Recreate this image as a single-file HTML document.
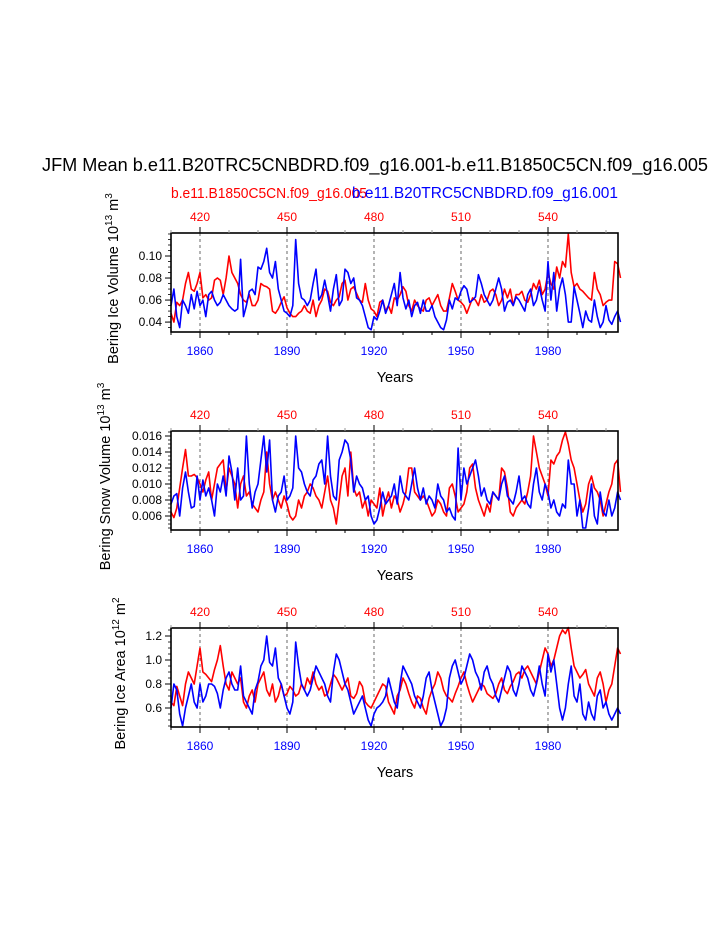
<!DOCTYPE html>
<html><head><meta charset="utf-8">
<style>
html,body{margin:0;padding:0;background:#fff;}
svg{display:block;font-family:"Liberation Sans",Arial,sans-serif;}
</style></head>
<body>
<svg id="chart" width="723" height="935" viewBox="0 0 723 935" xmlns="http://www.w3.org/2000/svg">
<text x="42" y="171" font-size="18" textLength="666" lengthAdjust="spacingAndGlyphs">JFM Mean b.e11.B20TRC5CNBDRD.f09_g16.001-b.e11.B1850C5CN.f09_g16.005</text>
<text x="171" y="198" font-size="14.5" fill="#ff0000" textLength="196" lengthAdjust="spacingAndGlyphs">b.e11.B1850C5CN.f09_g16.005</text>
<text x="352" y="198" font-size="15.5" fill="#0000ff" textLength="266" lengthAdjust="spacingAndGlyphs">b.e11.B20TRC5CNBDRD.f09_g16.001</text>
</svg>
<script>
const years0 = 1850;
const bottomTickLabels = [1860,1890,1920,1950,1980];
const topTickLabels = [420,450,480,510,540];

const iceVolBlue = [.055,.070,.045,.035,.060,.055,.048,.065,.052,.068,
.055,.060,.045,.065,.068,.060,.055,.058,.065,.060,
.055,.052,.050,.052,.097,.045,.055,.068,.070,.065,
.090,.088,.095,.107,.085,.080,.095,.070,.060,.050,
.048,.045,.055,.115,.075,.062,.060,.055,.060,.075,
.088,.060,.065,.078,.065,.050,.070,.083,.055,.060,
.088,.085,.075,.080,.062,.060,.055,.045,.035,.033,
.045,.042,.050,.060,.048,.055,.065,.075,.055,.085,
.062,.052,.060,.045,.055,.058,.048,.060,.050,.050,
.055,.045,.040,.035,.033,.042,.060,.052,.062,.060,
.068,.073,.070,.058,.060,.063,.083,.075,.065,.060,
.055,.060,.070,.080,.070,.050,.058,.060,.055,.063,
.060,.055,.050,.065,.070,.055,.060,.072,.060,.050,
.095,.060,.085,.050,.070,.080,.065,.040,.040,.072,
.060,.048,.035,.050,.042,.040,.060,.045,.035,.040,
.055,.042,.038,.045,.050,.040];
const iceVolRed = [.048,.040,.058,.055,.060,.075,.085,.070,.068,.075,
.085,.062,.065,.060,.062,.078,.080,.078,.065,.080,
.100,.085,.080,.075,.065,.060,.058,.065,.055,.055,
.060,.075,.073,.072,.070,.050,.048,.052,.058,.063,
.053,.048,.045,.045,.048,.050,.055,.050,.048,.060,
.045,.055,.060,.070,.068,.058,.055,.060,.063,.075,
.078,.060,.070,.072,.066,.060,.058,.075,.060,.052,
.050,.045,.058,.060,.050,.055,.048,.062,.060,.065,
.072,.068,.055,.050,.060,.055,.052,.050,.060,.062,
.055,.060,.065,.055,.050,.050,.062,.075,.068,.060,
.058,.055,.048,.055,.062,.060,.055,.065,.058,.060,
.068,.070,.065,.055,.060,.070,.062,.070,.055,.065,
.065,.068,.060,.058,.065,.075,.070,.078,.065,.070,
.085,.075,.070,.090,.080,.095,.090,.120,.085,.072,
.075,.070,.068,.065,.062,.060,.085,.070,.065,.055,
.058,.060,.060,.095,.093,.080];

const snowBlue = [.0075,.0085,.0088,.0060,.0095,.0115,.0090,.0070,.0072,.0110,
.0080,.0105,.0085,.0095,.0080,.0060,.0100,.0090,.0110,.0085,
.0135,.0115,.0080,.0120,.0080,.0085,.0160,.0100,.0070,.0090,
.0100,.0130,.0160,.0115,.0155,.0080,.0065,.0085,.0090,.0110,
.0080,.0085,.0095,.0160,.0120,.0115,.0100,.0090,.0085,.0105,
.0110,.0125,.0130,.0100,.0160,.0110,.0085,.0080,.0130,.0140,
.0155,.0150,.0130,.0090,.0110,.0100,.0095,.0080,.0085,.0060,
.0050,.0055,.0070,.0090,.0075,.0080,.0085,.0100,.0075,.0110,
.0090,.0085,.0080,.0100,.0120,.0095,.0080,.0095,.0075,.0085,
.0080,.0070,.0100,.0085,.0080,.0065,.0070,.0060,.0055,.0145,
.0080,.0120,.0100,.0110,.0120,.0130,.0110,.0085,.0095,.0080,
.0075,.0090,.0085,.0080,.0100,.0110,.0085,.0080,.0075,.0090,
.0110,.0080,.0085,.0075,.0070,.0100,.0120,.0090,.0080,.0100,
.0090,.0070,.0080,.0065,.0060,.0075,.0070,.0130,.0100,.0100,
.0060,.0080,.0045,.0045,.0070,.0100,.0060,.0050,.0090,.0065,
.0060,.0080,.0060,.0070,.0090,.0080];
const snowRed = [.0065,.0058,.0070,.0095,.0120,.0143,.0110,.0110,.0112,.0108,
.0100,.0090,.0105,.0115,.0080,.0100,.0120,.0125,.0130,.0090,
.0120,.0110,.0100,.0070,.0100,.0110,.0085,.0090,.0075,.0070,
.0065,.0080,.0090,.0140,.0100,.0080,.0090,.0080,.0070,.0085,
.0075,.0060,.0055,.0060,.0080,.0070,.0085,.0090,.0100,.0095,
.0085,.0080,.0070,.0090,.0110,.0080,.0070,.0050,.0080,.0110,
.0120,.0085,.0140,.0095,.0085,.0090,.0070,.0080,.0060,.0080,
.0075,.0070,.0095,.0060,.0078,.0090,.0070,.0085,.0080,.0065,
.0075,.0090,.0120,.0120,.0090,.0085,.0080,.0085,.0080,.0070,
.0060,.0065,.0080,.0075,.0065,.0060,.0095,.0100,.0085,.0065,
.0070,.0075,.0090,.0120,.0125,.0095,.0080,.0070,.0060,.0075,
.0065,.0090,.0085,.0080,.0120,.0115,.0095,.0065,.0060,.0070,
.0075,.0080,.0075,.0090,.0110,.0160,.0140,.0120,.0110,.0100,
.0085,.0130,.0125,.0135,.0140,.0155,.0165,.0150,.0130,.0120,
.0100,.0080,.0065,.0075,.0100,.0110,.0095,.0090,.0080,.0060,
.0075,.0090,.0100,.0125,.0130,.0090];

const areaBlue = [.60,.80,.75,.55,.45,.60,.70,.80,.65,.60,
.80,.65,.70,.80,.80,.78,.72,.60,.75,.85,
.90,.80,.75,.75,.95,.70,.65,.60,.55,.75,
.82,.95,1.00,1.20,.98,.95,1.10,.85,.80,.70,
.60,.55,.65,1.15,.95,.80,.75,.70,.75,.85,
.95,.90,.85,.80,.70,.65,.90,1.05,1.00,.90,
.80,.75,.65,.55,.60,.65,.70,.60,.50,.45,
.55,.60,.62,.65,.70,.85,.75,.65,.60,.80,
.95,.90,.85,.80,.70,.65,.60,.70,.85,.90,
.75,.65,.55,.45,.50,.60,.85,.95,1.00,.90,
.80,.85,.95,1.05,1.00,.90,.85,.75,.90,.95,
.85,.80,.70,.65,.75,.85,.95,.90,.75,.70,
.80,.95,.90,.85,.75,.70,.80,.95,.80,.70,
1.05,.90,1.00,.80,.60,.50,.60,.80,.95,.70,
.65,.80,.55,.50,.65,.55,.50,.70,.75,.60,
.65,.55,.50,.55,.60,.55];
const areaRed = [.65,.62,.78,.70,.62,.80,.90,.85,.80,.95,
1.10,.90,.88,.85,.82,.92,1.00,1.12,.95,.80,
.75,.90,.85,.80,.85,.65,.60,.70,.75,.65,
.80,.85,.90,.75,.70,.80,.65,.70,.80,.70,
.72,.78,.75,.70,.72,.80,.75,.85,.80,.90,
.80,.75,.78,.70,.72,.80,.88,.85,.80,.75,
.80,.85,.70,.68,.72,.82,.78,.65,.62,.60,
.65,.70,.75,.80,.78,.65,.60,.55,.70,.75,
.85,.80,.72,.65,.60,.70,.68,.60,.55,.68,
.75,.80,.90,.85,.75,.70,.68,.65,.72,.78,
.85,.90,.80,.72,.65,.70,.75,.80,.78,.72,
.70,.68,.72,.80,.85,.75,.72,.78,.82,.88,
.90,.85,.92,.95,.90,.85,.80,.90,1.00,1.10,
1.05,.95,1.00,1.10,1.20,1.25,1.22,1.27,1.10,.95,
.90,.85,.88,.92,.80,.75,.70,.85,.90,.80,
.65,.75,.80,.95,1.10,1.05];

const iceVolTicks = ["0.04","0.06","0.08","0.10"];
const snowTicks = ["0.006","0.008","0.010","0.012","0.014","0.016"];
const areaTicks = ["0.6","0.8","1.0","1.2"];

const NS = "http://www.w3.org/2000/svg";
const svg = document.getElementById("chart");
function mk(tag, attrs, parent){const e=document.createElementNS(NS,tag);for(const k in attrs)e.setAttribute(k,attrs[k]);(parent||svg).appendChild(e);return e;}

const X0=171,X1=618,YR0=1850,YR1=2004.14;
function xs(yr){return X0+(yr-YR0)*(X1-X0)/(YR1-YR0);}

const panels=[
 {name:"ice-volume",top:233,bot:332,vmin:0.031,vmax:0.1209,ticks:iceVolTicks,minor:0.005,blue:iceVolBlue,red:iceVolRed,label:"Bering Ice Volume 10",sup1:"13",unit:" m",sup2:"3",labX:118},
 {name:"snow-volume",top:431,bot:530,vmin:0.004250,vmax:0.016625,ticks:snowTicks,minor:0.0005,blue:snowBlue,red:snowRed,label:"Bering Snow Volume 10",sup1:"13",unit:" m",sup2:"3",labX:110},
 {name:"ice-area",top:628,bot:727,vmin:0.4417,vmax:1.2667,ticks:areaTicks,minor:0.05,blue:areaBlue,red:areaRed,label:"Bering Ice Area 10",sup1:"12",unit:" m",sup2:"2",labX:125}
];

panels.forEach(p=>{
 const g=mk("g",{});
 
 
 const ys=v=>p.bot-(v-p.vmin)*(p.bot-p.top)/(p.vmax-p.vmin);
 bottomTickLabels.forEach(yr=>{
  const l=mk("line",{x1:xs(yr),x2:xs(yr),y1:p.top,y2:p.bot,stroke:"#444","stroke-width":0.8,"stroke-dasharray":"3,3"},g);
  
  
 });
 [["red",p.red,"#ff0000"],["blue",p.blue,"#0000ff"]].forEach(([nm,arr,col])=>{
  const pts=arr.map((v,i)=>xs(YR0+i).toFixed(1)+","+ys(v).toFixed(1)).join(" ");
  const pl=mk("polyline",{points:pts,fill:"none",stroke:col,"stroke-width":1.6,"stroke-linejoin":"round"},g);
  
  
 });
 const fr=mk("rect",{x:X0,y:p.top,width:X1-X0,height:p.bot-p.top,fill:"none",stroke:"#000","stroke-width":1.6},g);
 
 
 for(let v=Math.ceil(p.vmin/p.minor)*p.minor; v<=p.vmax+1e-9; v+=p.minor){
  const y=ys(v);
  mk("line",{x1:X0-3,x2:X0,y1:y,y2:y,stroke:"#000","stroke-width":0.8},g);
 }
 p.ticks.forEach(t=>{
  const y=ys(parseFloat(t));
  mk("line",{x1:X0-6,x2:X0,y1:y,y2:y,stroke:"#000","stroke-width":1},g);
  const tx=mk("text",{x:X0-9,y:y+4,"font-size":12,"text-anchor":"end"},g);
  tx.textContent=t;
  
  
 });
 for(let yr=1850; yr<=2000; yr+=10){
  const x=xs(yr); const major=bottomTickLabels.includes(yr);
  const len=major?6:3;
  mk("line",{x1:x,x2:x,y1:p.bot,y2:p.bot+len,stroke:"#000","stroke-width":1},g);
  mk("line",{x1:x,x2:x,y1:p.top,y2:p.top-len,stroke:major?"#000":"#999","stroke-width":1},g);
 }
 bottomTickLabels.forEach(yr=>{
  const t=mk("text",{x:xs(yr),y:p.bot+23,"font-size":12,"text-anchor":"middle",fill:"#0000ff"},g);
  t.textContent=yr;
  
  
 });
 topTickLabels.forEach((lab,i)=>{
  const t=mk("text",{x:xs(bottomTickLabels[i]),y:p.top-12,"font-size":12,"text-anchor":"middle",fill:"#ff0000"},g);
  t.textContent=lab;
  
  
 });
 const xt=mk("text",{x:395,y:p.bot+50,"font-size":14.5,"text-anchor":"middle"},g);
 xt.textContent="Years";
 
 
 const cy=(p.top+p.bot)/2-4;
 const yt=mk("text",{x:0,y:0,"font-size":14.5,"text-anchor":"middle",transform:`translate(${p.labX},${cy}) rotate(-90)`},g);
 
 
 yt.appendChild(document.createTextNode(p.label));
 const s1=mk("tspan",{"font-size":10,dy:-6},yt); s1.textContent=p.sup1;
 const u=mk("tspan",{dy:6},yt); u.textContent=p.unit;
 const s2=mk("tspan",{"font-size":10,dy:-6},yt); s2.textContent=p.sup2;
});
</script>
</body></html>
